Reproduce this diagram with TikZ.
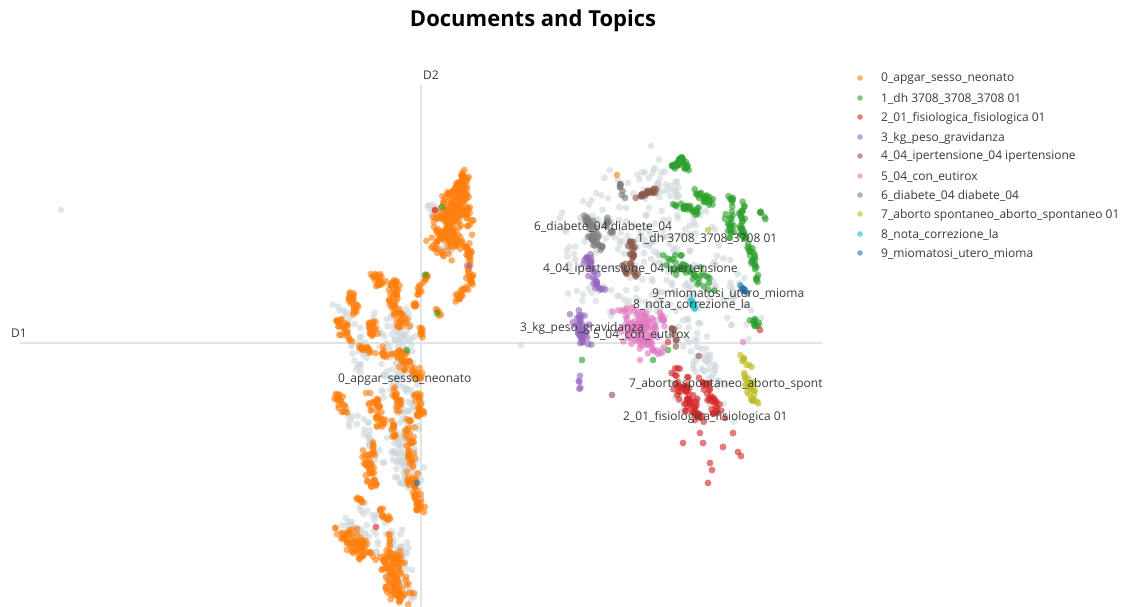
\documentclass[tikz,border=0pt]{standalone}
\usepackage{fontspec}
\setmainfont{Open Sans}
\definecolor{corg}{HTML}{FF7F0E}
\definecolor{cgrn}{HTML}{2CA02C}
\definecolor{cred}{HTML}{D62728}
\definecolor{cpur}{HTML}{9467BD}
\definecolor{cbrn}{HTML}{8C564B}
\definecolor{cpnk}{HTML}{E377C2}
\definecolor{cdgr}{HTML}{7F7F7F}
\definecolor{colv}{HTML}{BCBD22}
\definecolor{ccyn}{HTML}{17BECF}
\definecolor{cblu}{HTML}{1F77B4}
\definecolor{cgry}{HTML}{CFD8DC}
\definecolor{axisc}{HTML}{E3E3E3}
\definecolor{txt}{HTML}{3A3A3A}
% scatter a cloud of dots of colour #1 along the segment (#3,#4)-(#5,#6), jitter #7 x #8;
% #2 is a base count that is scaled by \density
\def\density{1.7}
\newcommand\blob[8]{%
  \pgfmathtruncatemacro\nn{max(1,round(#2*\density))}%
  \foreach \kk in {1,...,\nn}{%
    \pgfmathsetmacro\ptt{rnd}%
    \pgfmathsetmacro\ptx{#3+(#5-#3)*\ptt+#7*(rand+rand)/2}%
    \pgfmathsetmacro\pty{#4+(#6-#4)*\ptt+#8*(rand+rand)/2}%
    \fill[pdot,#1] (\ptx,\pty) circle[radius=3.4pt];%
  }%
}
\newcommand\sdot[3]{\fill[pdot,#1] (#2,#3) circle[radius=3.4pt];}
\tikzset{
  pdot/.style={fill opacity=0.62},
  axisline/.style={draw=axisc, line width=1.6pt},
  toplabel/.style={anchor=west, inner sep=0pt, text=txt, font=\fontsize{12}{14}\selectfont},
  legtext/.style={anchor=west, inner sep=0pt, text=txt, font=\fontsize{12}{14}\selectfont},
  legdot/.style={fill opacity=0.6},
}
\begin{document}
\begin{tikzpicture}[x=1pt,y=-1pt]
\pgfmathsetseed{17}
\useasboundingbox (0,0) rectangle (1126,607);
\fill[white] (0,0) rectangle (1126,607);

% title
\node[font=\fontsize{22}{26}\selectfont\bfseries, text=black] (title) at (533,21) {Documents and Topics};

% axes
\coordinate (d1a) at (20,343);
\coordinate (d1b) at (822,343);
\coordinate (d2a) at (421,85);
\coordinate (d2b) at (421,607);
\draw[axisline] (d1a) -- (d1b);
\draw[axisline] (d2a) -- (d2b);
\node[toplabel] (d1) at (11,333) {D1};
\node[toplabel] (d2) at (423,75) {D2};

% ---- unassigned documents, left group
\sdot{cgry}{61}{210}
\blob{cgry}{80}{390}{310}{410}{425}{22}{16}
\blob{cgry}{45}{395}{425}{410}{480}{18}{14}
\blob{cgry}{30}{370}{505}{400}{565}{22}{12}
\blob{cgry}{15}{345}{520}{370}{540}{12}{10}
\blob{cgry}{20}{345}{300}{365}{370}{14}{18}
\blob{cgry}{14}{360}{420}{380}{470}{12}{12}
\blob{cgry}{7}{430}{205}{438}{220}{5}{5}
\blob{cgry}{8}{390}{575}{410}{600}{12}{6}
\blob{cgry}{6}{440}{245}{455}{260}{8}{6}
\blob{cgry}{6}{338}{395}{350}{420}{8}{8}

% ---- topic 0, left group
\blob{corg}{35}{463}{174}{459}{196}{7}{5}
\blob{corg}{60}{458}{192}{453}{218}{18}{7}
\blob{corg}{70}{453}{212}{450}{246}{24}{7}
\blob{corg}{22}{468}{245}{470}{287}{4}{3}
\blob{corg}{10}{466}{287}{457}{300}{5}{3}
\blob{corg}{7}{434}{245}{448}{262}{6}{6}
\blob{corg}{10}{427}{273}{418}{296}{3}{2}
\blob{corg}{3}{436}{308}{440}{316}{2}{2}
\blob{corg}{14}{374}{275}{382}{285}{7}{6}
\blob{corg}{18}{393}{280}{397}{298}{7}{5}
\blob{corg}{15}{350}{293}{355}{314}{5}{4}
\blob{corg}{22}{388}{298}{405}{327}{9}{6}
\blob{corg}{16}{340}{320}{350}{340}{7}{5}
\blob{corg}{14}{370}{318}{375}{343}{5}{3}
\blob{corg}{4}{415}{303}{416}{308}{2}{2}
\blob{corg}{5}{421}{326}{422}{337}{2}{2}
\blob{corg}{9}{358}{347}{374}{352}{4}{3}
\blob{corg}{5}{382}{347}{385}{360}{2}{2}
\blob{corg}{28}{395}{352}{420}{377}{9}{7}
\blob{corg}{12}{336}{393}{344}{410}{5}{5}
\blob{corg}{22}{370}{393}{382}{428}{8}{5}
\blob{corg}{12}{394}{387}{400}{410}{5}{4}
\blob{corg}{16}{417}{387}{421}{417}{5}{3}
\blob{corg}{30}{409}{420}{413}{487}{7}{3}
\blob{corg}{22}{364}{450}{374}{487}{7}{5}
\blob{corg}{5}{373}{440}{374}{457}{2}{2}
\blob{corg}{18}{414}{482}{420}{510}{6}{5}
\blob{corg}{4}{358}{497}{362}{503}{3}{3}
\blob{corg}{7}{380}{510}{388}{520}{5}{3}
\blob{corg}{45}{344}{530}{366}{556}{13}{9}
\blob{corg}{5}{389}{533}{390}{553}{2}{2}
\blob{corg}{65}{392}{553}{400}{602}{16}{7}
\blob{corg}{7}{392}{420}{395}{437}{3}{2}
\sdot{cgrn}{442}{207}
\sdot{cred}{435}{210}
\sdot{cpur}{469}{266}
\sdot{cgrn}{425}{275}
\sdot{cgrn}{437}{313}
\sdot{cgrn}{407}{350}
\sdot{cblu}{417}{483}
\sdot{cred}{376}{527}

% ---- unassigned documents, right group
\sdot{cgry}{521}{345}
\sdot{cgry}{651}{146}
\blob{cgry}{80}{600}{200}{700}{300}{50}{36}
\blob{cgry}{30}{650}{170}{700}{230}{24}{18}
\blob{cgry}{30}{600}{290}{700}{340}{46}{18}
\blob{cgry}{22}{690}{340}{720}{380}{18}{18}
\blob{cgry}{10}{560}{200}{580}{300}{12}{24}
\blob{cgry}{12}{720}{250}{770}{370}{18}{30}
\blob{cgry}{8}{660}{380}{740}{420}{24}{18}

% ---- topic 1
\blob{cgrn}{14}{673}{168}{682}{158}{3}{3}
\blob{cgrn}{9}{682}{158}{688}{172}{3}{3}
\blob{cgrn}{13}{677}{205}{697}{212}{7}{5}
\blob{cgrn}{13}{697}{192}{712}{203}{5}{5}
\blob{cgrn}{12}{731}{195}{731}{238}{4}{4}
\blob{cgrn}{12}{742}{195}{742}{238}{4}{4}
\blob{cgrn}{9}{742}{232}{752}{255}{4}{3}
\blob{cgrn}{11}{752}{252}{758}{283}{4}{3}
\blob{cgrn}{26}{665}{255}{712}{285}{12}{10}
\blob{cgrn}{6}{752}{320}{762}{330}{4}{3}
\blob{cgrn}{3}{760}{210}{765}{220}{2}{2}
\blob{cgrn}{4}{725}{215}{732}{232}{2}{2}
\sdot{cgrn}{582}{360}
\sdot{cgrn}{668}{350}
\sdot{cgrn}{653}{360}

% ---- topic 6
\blob{cdgr}{12}{583}{215}{597}{232}{5}{5}
\blob{cdgr}{13}{590}{232}{602}{250}{6}{5}
\blob{cdgr}{6}{606}{220}{614}{237}{3}{3}
\blob{cdgr}{5}{620}{182}{624}{200}{2}{2}
\sdot{corg}{617}{175}

% ---- topic 4
\blob{cbrn}{12}{636}{197}{655}{190}{4}{4}
\blob{cbrn}{14}{630}{240}{636}{280}{5}{4}
\blob{cbrn}{5}{622}{262}{628}{275}{3}{3}
\blob{cbrn}{4}{672}{325}{678}{350}{2}{2}
\sdot{cbrn}{699}{356}
\sdot{cbrn}{612}{395}

% ---- topic 3
\blob{cpur}{20}{585}{255}{600}{290}{7}{5}
\blob{cpur}{24}{577}{312}{585}{345}{9}{5}
\blob{cpur}{3}{578}{375}{581}{388}{2}{2}

% ---- topic 5
\blob{cpnk}{30}{625}{310}{655}{330}{18}{10}
\blob{cpnk}{35}{620}{325}{660}{352}{16}{10}
\blob{cpnk}{5}{660}{312}{666}{327}{3}{3}
\sdot{cpnk}{743}{342}
\sdot{cpnk}{640}{360}

% ---- topics 8 and 9
\blob{ccyn}{4}{691}{300}{696}{310}{2}{2}
\blob{cblu}{4}{740}{283}{746}{293}{2}{2}

% ---- topic 7
\blob{colv}{5}{741}{357}{749}{367}{4}{3}
\blob{colv}{16}{745}{375}{755}{402}{6}{5}
\sdot{colv}{708}{230}

% ---- topic 2
\blob{cred}{34}{680}{385}{700}{418}{10}{7}
\blob{cred}{18}{700}{375}{720}{420}{7}{8}
\blob{cred}{5}{673}{370}{690}{380}{5}{5}
\sdot{cred}{700}{433}
\sdot{cred}{683}{443}
\sdot{cred}{703}{443}
\sdot{cred}{723}{447}
\sdot{cred}{733}{433}
\sdot{cred}{738}{452}
\sdot{cred}{741}{456}
\sdot{cred}{710}{463}
\sdot{cred}{712}{470}
\sdot{cred}{708}{483}
\sdot{cred}{725}{418}
\sdot{cred}{760}{330}
\sdot{cred}{668}{342}

% ---- topic labels
\node[toplabel] (l0) at (338,380) {0\_apgar\_sesso\_neonato};
\node[toplabel] (l1) at (637,239) {1\_dh 3708\_3708\_3708 01};
\node[toplabel] (l2) at (623,417) {2\_01\_fisiologica\_fisiologica 01};
\node[toplabel] (l3) at (520,328) {3\_kg\_peso\_gravidanza};
\node[toplabel] (l4) at (543,270) {4\_04\_ipertensione\_04 ipertensione};
\node[toplabel] (l5) at (593,335) {5\_04\_con\_eutirox};
\node[toplabel] (l6) at (534,227) {6\_diabete\_04 diabete\_04};
\node[toplabel] (l7) at (629,384) {7\_aborto spontaneo\_aborto\_spont};
\node[toplabel] (l8) at (633,305) {8\_nota\_correzione\_la};
\node[toplabel] (l9) at (652,294) {9\_miomatosi\_utero\_mioma};

% ---- legend
\foreach \cc/\yy/\tt [count=\ii] in {
  corg/78/0\_apgar\_sesso\_neonato,
  cgrn/98/1\_dh 3708\_3708\_3708 01,
  cred/117/2\_01\_fisiologica\_fisiologica 01,
  cpur/137/3\_kg\_peso\_gravidanza,
  cbrn/156/4\_04\_ipertensione\_04 ipertensione,
  cpnk/176/5\_04\_con\_eutirox,
  cdgr/195/6\_diabete\_04 diabete\_04,
  colv/214/7\_aborto spontaneo\_aborto\_spontaneo 01,
  ccyn/234/8\_nota\_correzione\_la,
  cblu/253/9\_miomatosi\_utero\_mioma}{
  \fill[legdot,\cc] (860,\yy) circle[radius=2.8pt];
  \node[legtext] (leg\ii) at (881,\yy+1) {\tt};
}
\end{tikzpicture}
\end{document}
